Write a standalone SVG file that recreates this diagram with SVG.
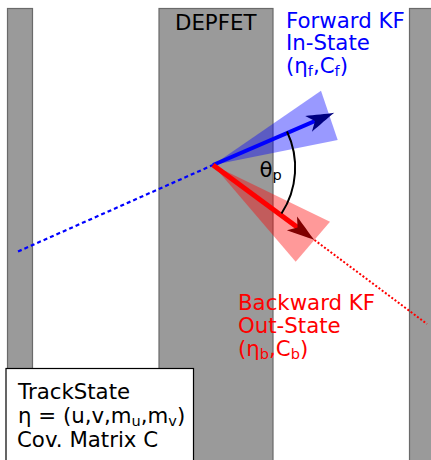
<svg xmlns="http://www.w3.org/2000/svg" width="431" height="460" viewBox="0 0 431 460">
<style>
.bar{fill:#9a9a9a;stroke:#6a6a6a;stroke-width:1.2}
.t{font-family:"DejaVu Sans",sans-serif;font-size:21.3px}
.sub{font-size:14.5px}
</style>
<defs>
<marker id="ab" markerUnits="userSpaceOnUse" orient="auto" overflow="visible" markerWidth="1" markerHeight="1" refX="0" refY="0">
<path d="M15,0 C7,-2 -4,-6 -13,-8.5 L-6,0 L-13,8.5 C-4,6 7,2 15,0Z" fill="#000080"/>
</marker>
<marker id="ar" markerUnits="userSpaceOnUse" orient="auto" overflow="visible" markerWidth="1" markerHeight="1" refX="0" refY="0">
<path d="M15,0 C7,-2 -4,-6 -13,-8.5 L-6,0 L-13,8.5 C-4,6 7,2 15,0Z" fill="#800000"/>
</marker>
</defs>
<g id="planes">
<rect id="plane-left" class="bar" x="7.5" y="8.5" width="25" height="460"/>
<rect id="plane-depfet" class="bar" x="159" y="8.5" width="114" height="460"/>
<rect id="plane-right" class="bar" x="409.5" y="8.5" width="40" height="460"/>
</g>
<g id="connectors">
<line x1="18" y1="251.5" x2="213" y2="165" stroke="#0000ff" stroke-width="2.2" stroke-dasharray="4,3"/>
<line x1="314.5" y1="240" x2="427" y2="324" stroke="#ff0000" stroke-width="2" stroke-dasharray="2,2"/>
<polygon points="213,165 321,90.7 337.7,140" fill="#0000ff" fill-opacity="0.4"/>
<polygon points="213,165 330,221.7 295.7,261.7" fill="#ff0000" fill-opacity="0.4"/>
<line x1="213" y1="165" x2="320.5" y2="118.7" stroke="#0000ff" stroke-width="4" marker-end="url(#ab)"/>
<line x1="213" y1="165" x2="302.4" y2="231.1" stroke="#ff0000" stroke-width="5" marker-end="url(#ar)"/>
<path d="M287,131.5 A84,84 0 0 1 281.5,213.5" fill="none" stroke="#000" stroke-width="2"/>
</g>
<g id="labels">
<text class="t" x="175" y="30" fill="#000">DEPFET</text>
<g id="forward" class="t" fill="#0000ff">
<text x="286" y="27.5">Forward KF</text>
<text x="286" y="50">In-State</text>
<text x="286" y="72.5">(η<tspan class="sub" dy="3">f</tspan><tspan dy="-3">,C</tspan><tspan class="sub" dy="3">f</tspan><tspan dy="-3">)</tspan></text>
</g>
<g id="backward" class="t" fill="#ff0000">
<text x="238" y="310">Backward KF</text>
<text x="238" y="333">Out-State</text>
<text x="238" y="356">(η<tspan class="sub" dy="3">b</tspan><tspan dy="-3">,C</tspan><tspan class="sub" dy="3">b</tspan><tspan dy="-3">)</tspan></text>
</g>
<text class="t" x="259.5" y="176.5" fill="#000">θ<tspan class="sub" dy="3">p</tspan></text>
</g>
<g id="trackstate">
<rect x="6" y="368.5" width="187.5" height="100" fill="#fff" stroke="#000" stroke-width="1.2"/>
<g class="t" fill="#000">
<text x="18" y="399">TrackState</text>
<text x="18" y="423">η = (u,v,m<tspan class="sub" dy="3">u</tspan><tspan dy="-3">,m</tspan><tspan class="sub" dy="3">v</tspan><tspan dy="-3">)</tspan></text>
<text x="17" y="447">Cov. Matrix C</text>
</g>
</g>
</svg>
